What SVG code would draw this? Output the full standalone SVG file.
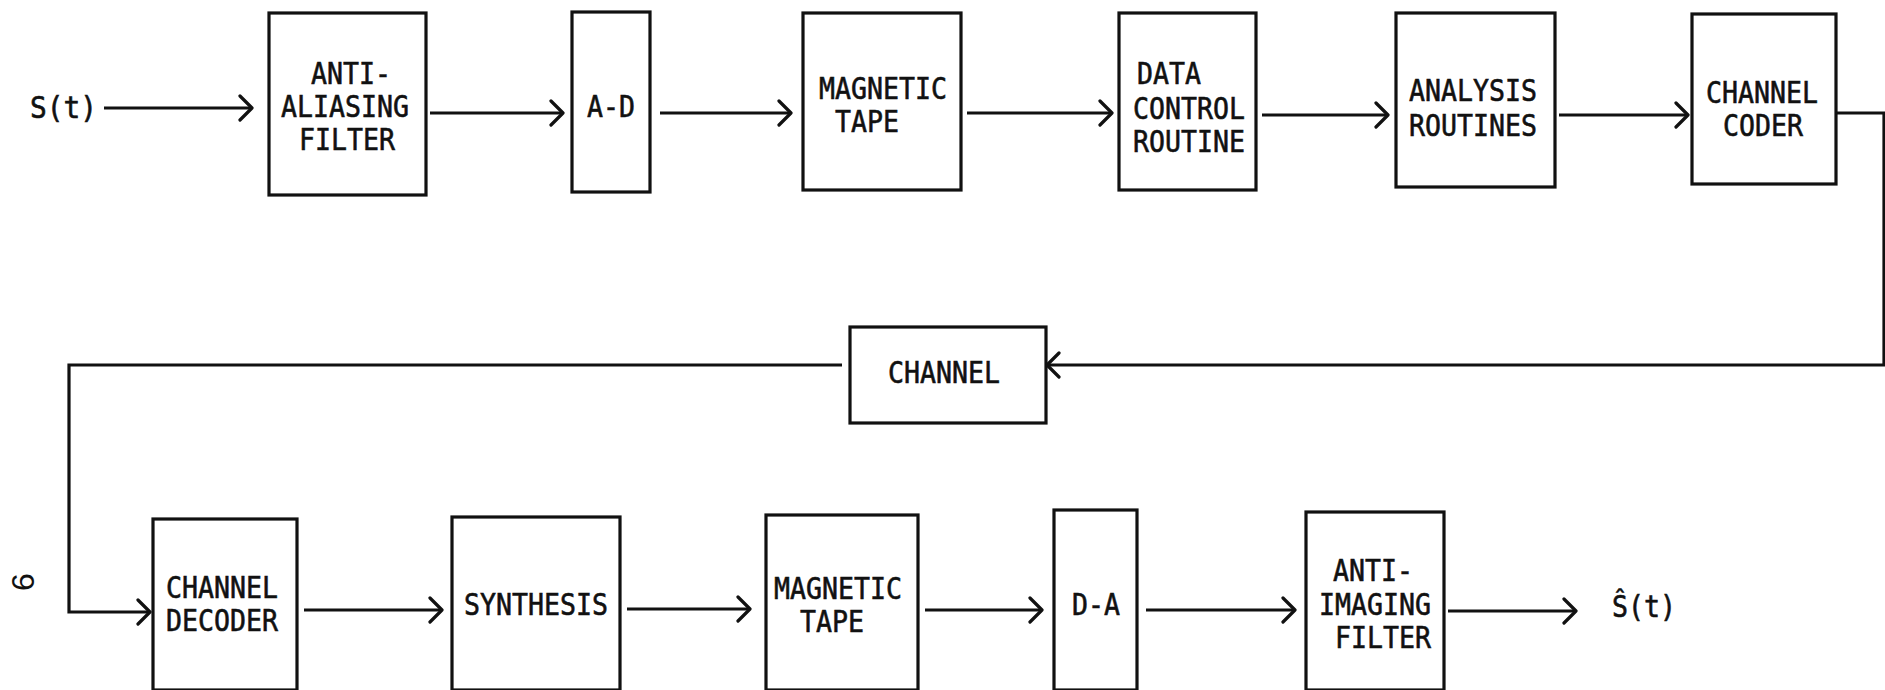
<svg xmlns="http://www.w3.org/2000/svg" width="1885" height="690" viewBox="0 0 1885 690">
<style>
.box{fill:none;stroke:#111;stroke-width:3.2}
.lbl{font-family:"DejaVu Sans Mono","Liberation Mono",monospace;font-size:30px;fill:#111;stroke:#111;stroke-width:0.6}
.wire{fill:none;stroke:#111;stroke-width:3.2;stroke-linejoin:miter}
</style>
<defs>
<marker id="chev" markerUnits="userSpaceOnUse" viewBox="-2 -2 16 28" refX="12" refY="12" markerWidth="16" markerHeight="28" orient="auto">
<path d="M0,0 L12,12 L0,24" fill="none" stroke="#111" stroke-width="3.2" stroke-linecap="round" stroke-linejoin="round"/>
</marker>
</defs>
<rect width="1885" height="690" fill="#fff"/>

<g id="input"><text class="lbl" x="30" y="118" textLength="67" lengthAdjust="spacingAndGlyphs">S(t)</text></g>
<g id="anti-aliasing"><rect class="box" x="269" y="13" width="157" height="182"/>
<text class="lbl" x="311" y="84" textLength="80" lengthAdjust="spacingAndGlyphs">ANTI-</text>
<text class="lbl" x="281" y="117" textLength="128" lengthAdjust="spacingAndGlyphs">ALIASING</text>
<text class="lbl" x="299" y="150" textLength="96" lengthAdjust="spacingAndGlyphs">FILTER</text></g>
<g id="a-d"><rect class="box" x="572" y="12" width="78" height="180"/>
<text class="lbl" x="587" y="117" textLength="48" lengthAdjust="spacingAndGlyphs">A-D</text></g>
<g id="tape1"><rect class="box" x="803" y="13" width="158" height="177"/>
<text class="lbl" x="819" y="99" textLength="128" lengthAdjust="spacingAndGlyphs">MAGNETIC</text>
<text class="lbl" x="835" y="132" textLength="64" lengthAdjust="spacingAndGlyphs">TAPE</text></g>
<g id="data-control"><rect class="box" x="1119" y="13" width="137" height="177"/>
<text class="lbl" x="1137" y="84" textLength="64" lengthAdjust="spacingAndGlyphs">DATA</text>
<text class="lbl" x="1133" y="119" textLength="112" lengthAdjust="spacingAndGlyphs">CONTROL</text>
<text class="lbl" x="1133" y="152" textLength="112" lengthAdjust="spacingAndGlyphs">ROUTINE</text></g>
<g id="analysis"><rect class="box" x="1396" y="13" width="159" height="174"/>
<text class="lbl" x="1409" y="101" textLength="128" lengthAdjust="spacingAndGlyphs">ANALYSIS</text>
<text class="lbl" x="1409" y="136" textLength="128" lengthAdjust="spacingAndGlyphs">ROUTINES</text></g>
<g id="channel-coder"><rect class="box" x="1692" y="14" width="144" height="170"/>
<text class="lbl" x="1706" y="103" textLength="112" lengthAdjust="spacingAndGlyphs">CHANNEL</text>
<text class="lbl" x="1723" y="136" textLength="80" lengthAdjust="spacingAndGlyphs">CODER</text></g>

<g id="channel"><rect class="box" x="850" y="327" width="196" height="96"/>
<text class="lbl" x="888" y="383" textLength="112" lengthAdjust="spacingAndGlyphs">CHANNEL</text></g>

<g id="channel-decoder"><rect class="box" x="153" y="519" width="144" height="171"/>
<text class="lbl" x="166" y="598" textLength="112" lengthAdjust="spacingAndGlyphs">CHANNEL</text>
<text class="lbl" x="166" y="631" textLength="112" lengthAdjust="spacingAndGlyphs">DECODER</text></g>
<g id="synthesis"><rect class="box" x="452" y="517" width="168" height="173"/>
<text class="lbl" x="464" y="615" textLength="144" lengthAdjust="spacingAndGlyphs">SYNTHESIS</text></g>
<g id="tape2"><rect class="box" x="766" y="515" width="152" height="175"/>
<text class="lbl" x="774" y="599" textLength="128" lengthAdjust="spacingAndGlyphs">MAGNETIC</text>
<text class="lbl" x="800" y="632" textLength="64" lengthAdjust="spacingAndGlyphs">TAPE</text></g>
<g id="d-a"><rect class="box" x="1054" y="510" width="83" height="180"/>
<text class="lbl" x="1072" y="615" textLength="48" lengthAdjust="spacingAndGlyphs">D-A</text></g>
<g id="anti-imaging"><rect class="box" x="1306" y="512" width="138" height="178"/>
<text class="lbl" x="1333" y="581" textLength="80" lengthAdjust="spacingAndGlyphs">ANTI-</text>
<text class="lbl" x="1319" y="615" textLength="112" lengthAdjust="spacingAndGlyphs">IMAGING</text>
<text class="lbl" x="1335" y="648" textLength="96" lengthAdjust="spacingAndGlyphs">FILTER</text></g>
<g id="output"><text class="lbl" x="1612" y="617" textLength="64" lengthAdjust="spacingAndGlyphs">Ŝ(t)</text></g>

<g id="connectors">
<path class="wire" d="M104,108 H252" marker-end="url(#chev)"/>
<path class="wire" d="M430,113 H563" marker-end="url(#chev)"/>
<path class="wire" d="M660,113 H791" marker-end="url(#chev)"/>
<path class="wire" d="M967,113 H1112" marker-end="url(#chev)"/>
<path class="wire" d="M1262,115 H1388" marker-end="url(#chev)"/>
<path class="wire" d="M1559,115 H1688" marker-end="url(#chev)"/>
<path class="wire" d="M1836,113 H1884 V365 H1047" marker-end="url(#chev)"/>
<path class="wire" d="M842,365 H69 V612 H150" marker-end="url(#chev)"/>
<path class="wire" d="M304,610 H442" marker-end="url(#chev)"/>
<path class="wire" d="M627,609 H750" marker-end="url(#chev)"/>
<path class="wire" d="M925,610 H1042" marker-end="url(#chev)"/>
<path class="wire" d="M1146,610 H1295" marker-end="url(#chev)"/>
<path class="wire" d="M1448,611 H1576" marker-end="url(#chev)"/>
</g>

<g id="page-number"><text x="23" y="582" transform="rotate(-90 23 582)" text-anchor="middle" dominant-baseline="central" font-family="Liberation Sans, sans-serif" font-size="32" fill="#111">6</text></g>
</svg>
